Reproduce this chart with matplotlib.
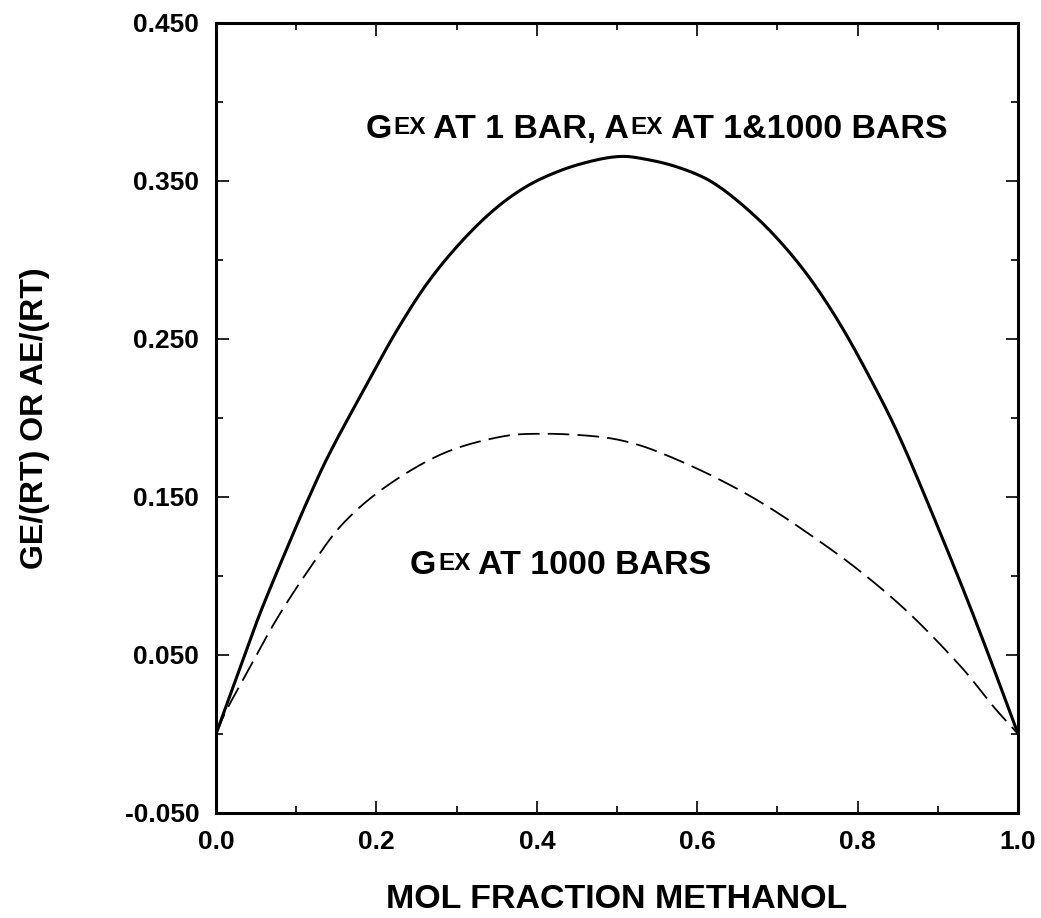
import matplotlib
matplotlib.use("Agg")
from matplotlib import pyplot as plt
from matplotlib.ticker import FixedLocator
import numpy as np

plt.rcParams['font.family'] = ['Liberation Sans', 'DejaVu Sans']

# curve: G_ex at 1 bar, A_ex at 1 & 1000 bars (solid)
x_solid = [0.0, 0.030, 0.055, 0.088, 0.117, 0.144, 0.192, 0.225, 0.263, 0.304,
           0.346, 0.387, 0.429, 0.470, 0.504, 0.533, 0.574, 0.616, 0.657, 0.699,
           0.741, 0.782, 0.824, 0.853, 0.886, 0.928, 0.961, 1.0]
y_solid = [0.0, 0.042, 0.0765, 0.117, 0.151, 0.180, 0.225, 0.255, 0.285, 0.3105,
           0.3315, 0.3465, 0.3565, 0.3628, 0.3655, 0.364, 0.359, 0.350, 0.3345, 0.314,
           0.288, 0.256, 0.217, 0.187, 0.148, 0.096, 0.053, 0.0]

# G_ex at 1000 bars (dashed)
x_dash = [0.0, 0.013, 0.042, 0.076, 0.117, 0.158, 0.213, 0.283, 0.354, 0.408,
          0.470, 0.512, 0.554, 0.616, 0.678, 0.741, 0.803, 0.865, 0.928, 0.969, 1.0]
y_dash = [0.0, 0.015, 0.042, 0.073, 0.105, 0.133, 0.157, 0.1775, 0.188, 0.190,
          0.1885, 0.185, 0.178, 0.164, 0.147, 0.126, 0.103, 0.076, 0.043, 0.0175, 0.0]

y_ticks = [-0.05, 0.05, 0.15, 0.25, 0.35, 0.45]
y_ticklabels = ["-0.050", "0.050", "0.150", "0.250", "0.350", "0.450"]
y_minor = [0.0, 0.1, 0.2, 0.3, 0.4]
x_ticks = [0.0, 0.2, 0.4, 0.6, 0.8, 1.0]
x_ticklabels = ["0.0", "0.2", "0.4", "0.6", "0.8", "1.0"]
x_minor = [0.1, 0.3, 0.5, 0.7, 0.9]


def smooth(xs, ys, n=25):
    # Catmull-Rom spline through the read points, so the line has no corners
    p = np.column_stack([xs, ys])
    p = np.vstack([2 * p[0] - p[1], p, 2 * p[-1] - p[-2]])
    t = np.linspace(0, 1, n)[:, None]
    out = []
    for i in range(1, len(p) - 2):
        p0, p1, p2, p3 = p[i - 1], p[i], p[i + 1], p[i + 2]
        seg = 0.5 * (2 * p1 + (-p0 + p2) * t
                     + (2 * p0 - 5 * p1 + 4 * p2 - p3) * t ** 2
                     + (-p0 + 3 * p1 - 3 * p2 + p3) * t ** 3)
        out.append(seg if i == 1 else seg[1:])
    out = np.vstack(out)
    return out[:, 0], out[:, 1]


def sup_label(ax, x, y, pieces, size):
    # pieces alternate normal / superscript text, starting with normal
    first = ax.text(x, y, pieces[0], fontsize=size, fontweight='bold',
                    ha='left', va='baseline')
    prev = first
    base = first
    for i, s in enumerate(pieces[1:]):
        if i % 2 == 0:
            prev = ax.annotate(s, xy=(1, 1), xycoords=base, xytext=(1, -1),
                               textcoords='offset points', fontsize=size * 0.72,
                               fontweight='bold', ha='left', va='top')
        else:
            base = ax.annotate(s, xy=(1, 0), xycoords=(prev, first),
                               fontsize=size, fontweight='bold',
                               ha='left', va='bottom')
            prev = base


fig = plt.figure(figsize=(10.41, 9.18), dpi=100)
ax = fig.add_axes([0.2075, 0.1144, 0.7705, 0.8606])

xs, ys = smooth(x_solid, y_solid)
ax.plot(xs, ys, color='black', lw=2.2)
xd, yd = smooth(x_dash, y_dash)
line, = ax.plot(xd, yd, color='black', lw=1.3)
line.set_dashes((12, 4.5))

ax.set_xlim(0, 1)
ax.set_ylim(-0.05, 0.45)

ax.xaxis.set_major_locator(FixedLocator(x_ticks))
ax.xaxis.set_minor_locator(FixedLocator(x_minor))
ax.yaxis.set_major_locator(FixedLocator(y_ticks))
ax.yaxis.set_minor_locator(FixedLocator(y_minor))
ax.set_xticklabels(x_ticklabels, fontsize=19, fontweight='bold')
ax.set_yticklabels(y_ticklabels, fontsize=19, fontweight='bold')

ax.tick_params(which='both', direction='in', top=True, right=True, width=1.2)
ax.tick_params(which='major', length=9)
ax.tick_params(which='minor', length=5)
ax.tick_params(axis='y', pad=12)
ax.tick_params(axis='x', pad=12)

for sp in ax.spines.values():
    sp.set_linewidth(2.2)

ax.set_xlabel("MOL FRACTION METHANOL", fontsize=24.5, fontweight='bold', labelpad=22)
ax.set_ylabel("GE/(RT) OR AE/(RT)", fontsize=23, fontweight='bold', labelpad=54)

sup_label(ax, 0.186, 0.377, ["G", "EX", " AT 1 BAR, A", "EX", " AT 1&1000 BARS"], 24.4)
sup_label(ax, 0.242, 0.101, ["G", "EX", " AT 1000 BARS"], 24.4)

fig.savefig("out.png", dpi=100)
